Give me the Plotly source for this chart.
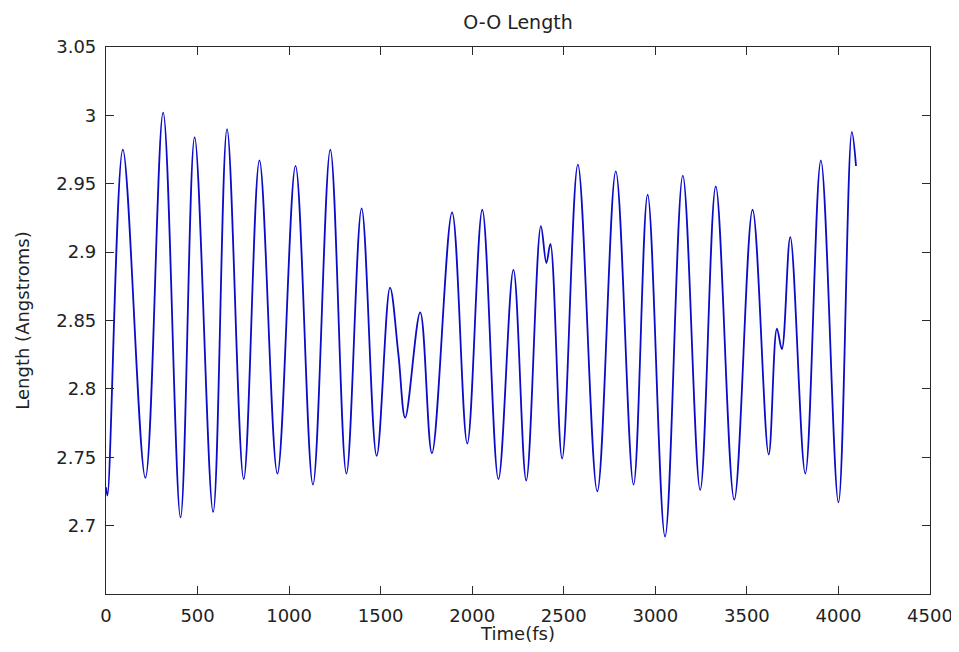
import plotly.graph_objects as go

# Extrema / feature points (time in fs, length in Angstroms)
time_fs = [0, 8, 92, 215, 312, 407, 484, 585, 661, 752, 838, 936, 1035, 1130,
           1225, 1313, 1396, 1478, 1551, 1597, 1634, 1716, 1780, 1890, 1973,
           2055, 2143, 2225, 2295, 2375, 2405, 2427, 2491, 2577, 2683, 2784,
           2881, 2958, 3053, 3150, 3245, 3330, 3431, 3531, 3619, 3664, 3691,
           3737, 3819, 3904, 4000, 4073, 4096]
length_A = [2.728, 2.722, 2.975, 2.735, 3.002, 2.706, 2.984, 2.710, 2.990, 2.734,
            2.967, 2.738, 2.963, 2.730, 2.975, 2.738, 2.932, 2.751, 2.874, 2.825,
            2.779, 2.856, 2.753, 2.929, 2.760, 2.931, 2.734, 2.887, 2.733, 2.919,
            2.892, 2.906, 2.749, 2.964, 2.725, 2.959, 2.730, 2.942, 2.692, 2.956,
            2.726, 2.948, 2.719, 2.931, 2.752, 2.844, 2.829, 2.911, 2.738, 2.967,
            2.717, 2.988, 2.963]

x_ticks = [0, 500, 1000, 1500, 2000, 2500, 3000, 3500, 4000, 4500]
y_ticks = [2.7, 2.75, 2.8, 2.85, 2.9, 2.95, 3.0, 3.05]
y_tick_text = ["2.7", "2.75", "2.8", "2.85", "2.9", "2.95", "3", "3.05"]

FONT = "DejaVu Sans, Verdana, sans-serif"
AX = "#2a2a2a"
TXT = "#222222"

fig = go.Figure()
fig.add_trace(go.Scatter(
    x=time_fs, y=length_A, mode="lines",
    line=dict(color="#0c0cc8", width=1.8, shape="spline", smoothing=1.0),
    showlegend=False, hoverinfo="skip"))

axis_common = dict(
    showgrid=False, zeroline=False, showline=True, linecolor=AX, linewidth=1.2,
    mirror="ticks", ticks="inside", ticklen=8, tickcolor=AX, tickwidth=1,
    tickfont=dict(family=FONT, size=18, color=TXT), automargin=False,
    ticklabeloverflow="allow",
)

# page body has an 8px margin; figure sized to fit the 959x652 window
fig.update_layout(
    width=951, height=636,
    margin=dict(l=98, r=29, t=39, b=50),
    paper_bgcolor="white", plot_bgcolor="white",
    title=dict(text="O-O Length", x=0.5, xanchor="center", xref="paper",
               y=1 - 14 / 636, yanchor="middle",
               font=dict(family=FONT, size=19, color=TXT)),
    xaxis=dict(range=[0, 4500], tickvals=x_ticks, ticklabelstandoff=5,
               title=dict(text="Time(fs)", standoff=3,
                          font=dict(family=FONT, size=18, color=TXT)),
               **axis_common),
    yaxis=dict(range=[2.65, 3.05], tickvals=y_ticks, ticktext=y_tick_text,
               ticklabelstandoff=5,
               title=dict(text="Length (Angstroms)", standoff=21,
                          font=dict(family=FONT, size=18, color=TXT)),
               **axis_common),
)

fig.write_html("out.html")
